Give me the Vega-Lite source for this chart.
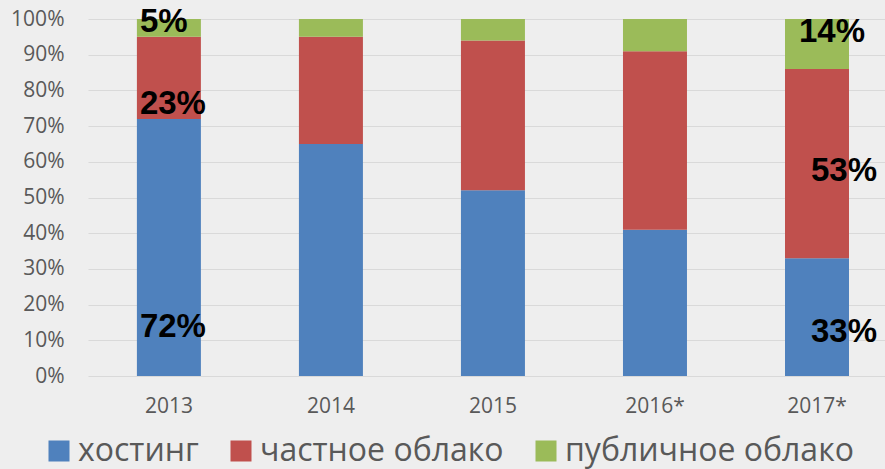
{
  "$schema": "https://vega.github.io/schema/vega-lite/v6.json",
  "width": 797,
  "height": 357,
  "autosize": {"type": "none"},
  "padding": {"left": 88, "top": 19, "right": 0, "bottom": 93},
  "background": "#eeeeee",
  "config": {
    "view": {"stroke": null},
    "axis": {"labelFont": "Open Sans", "labelFontSize": 21, "labelColor": "#595959", "domain": false, "ticks": false},
    "axisY": {"gridColor": "#d9d9d9", "labelPadding": 24, "labelOverlap": false},
    "legend": {"labelFont": "Open Sans", "labelFontSize": 32, "labelColor": "#595959"}
  },
  "data": {
    "values": [
      {"year": "2013", "type": "хостинг", "v": 0.72, "k": 1},
      {"year": "2013", "type": "частное облако", "v": 0.23, "k": 2},
      {"year": "2013", "type": "публичное облако", "v": 0.05, "k": 3},
      {"year": "2014", "type": "хостинг", "v": 0.65, "k": 1},
      {"year": "2014", "type": "частное облако", "v": 0.30, "k": 2},
      {"year": "2014", "type": "публичное облако", "v": 0.05, "k": 3},
      {"year": "2015", "type": "хостинг", "v": 0.52, "k": 1},
      {"year": "2015", "type": "частное облако", "v": 0.42, "k": 2},
      {"year": "2015", "type": "публичное облако", "v": 0.06, "k": 3},
      {"year": "2016*", "type": "хостинг", "v": 0.41, "k": 1},
      {"year": "2016*", "type": "частное облако", "v": 0.50, "k": 2},
      {"year": "2016*", "type": "публичное облако", "v": 0.09, "k": 3},
      {"year": "2017*", "type": "хостинг", "v": 0.33, "k": 1},
      {"year": "2017*", "type": "частное облако", "v": 0.53, "k": 2},
      {"year": "2017*", "type": "публичное облако", "v": 0.14, "k": 3}
    ]
  },
  "transform": [
    {"stack": "v", "groupby": ["year"], "sort": [{"field": "k", "order": "ascending"}], "as": ["v0", "v1"]}
  ],
  "encoding": {
    "x": {
      "field": "year", "type": "nominal", "title": null,
      "scale": {"paddingInner": 0.605, "paddingOuter": 0.262, "align": 0.576},
      "axis": {"labelAngle": 0, "labelPadding": 19}
    }
  },
  "layer": [
    {
      "mark": {"type": "bar"},
      "encoding": {
        "y": {
          "field": "v1", "type": "quantitative", "title": null,
          "scale": {"domain": [0, 1]},
          "axis": {"format": ".0%", "values": [0, 0.1, 0.2, 0.3, 0.4, 0.5, 0.6, 0.7, 0.8, 0.9, 1]}
        },
        "y2": {"field": "v0"},
        "color": {
          "field": "type", "type": "nominal",
          "scale": {"domain": ["хостинг", "частное облако", "публичное облако"], "range": ["#4f81bd", "#c0504d", "#9bbb59"]},
          "legend": {"title": null, "orient": "none", "direction": "horizontal", "legendX": -45, "legendY": 416, "symbolType": "square", "symbolSize": 441, "symbolStrokeWidth": 0, "symbolOpacity": 1, "columnPadding": 26, "labelOffset": 3, "labelLimit": 500}
        }
      }
    },
    {
      "transform": [{"filter": "datum.year == '2013' && datum.type != 'хостинг'"}],
      "mark": {"type": "text", "font": "Liberation Sans", "fontWeight": "bold", "fontSize": 33, "color": "black", "align": "left", "baseline": "middle", "dx": 3, "dy": -15},
      "encoding": {"x": {"field": "year", "type": "nominal", "bandPosition": 0}, "y": {"field": "v0", "type": "quantitative", "title": null, "axis": {"format": ".0%", "values": [0, 0.1, 0.2, 0.3, 0.4, 0.5, 0.6, 0.7, 0.8, 0.9, 1]}}, "text": {"field": "v", "type": "quantitative", "format": ".0%"}}
    },
    {
      "transform": [{"filter": "datum.year == '2013' && datum.type == 'хостинг'"}],
      "mark": {"type": "text", "font": "Liberation Sans", "fontWeight": "bold", "fontSize": 33, "color": "black", "align": "left", "baseline": "middle", "dx": 3, "dy": -49},
      "encoding": {"x": {"field": "year", "type": "nominal", "bandPosition": 0}, "y": {"field": "v0", "type": "quantitative", "title": null, "axis": {"format": ".0%", "values": [0, 0.1, 0.2, 0.3, 0.4, 0.5, 0.6, 0.7, 0.8, 0.9, 1]}}, "text": {"field": "v", "type": "quantitative", "format": ".0%"}}
    },
    {
      "transform": [{"filter": "datum.year == '2017*' && datum.type == 'хостинг'"}],
      "mark": {"type": "text", "font": "Liberation Sans", "fontWeight": "bold", "fontSize": 33, "color": "black", "align": "left", "baseline": "middle", "dx": 26, "dy": -44},
      "encoding": {"x": {"field": "year", "type": "nominal", "bandPosition": 0}, "y": {"field": "v0", "type": "quantitative", "title": null, "axis": {"format": ".0%", "values": [0, 0.1, 0.2, 0.3, 0.4, 0.5, 0.6, 0.7, 0.8, 0.9, 1]}}, "text": {"field": "v", "type": "quantitative", "format": ".0%"}}
    },
    {
      "transform": [{"filter": "datum.year == '2017*' && datum.type == 'частное облако'"}],
      "mark": {"type": "text", "font": "Liberation Sans", "fontWeight": "bold", "fontSize": 33, "color": "black", "align": "left", "baseline": "middle", "dx": 26, "dy": -87},
      "encoding": {"x": {"field": "year", "type": "nominal", "bandPosition": 0}, "y": {"field": "v0", "type": "quantitative", "title": null, "axis": {"format": ".0%", "values": [0, 0.1, 0.2, 0.3, 0.4, 0.5, 0.6, 0.7, 0.8, 0.9, 1]}}, "text": {"field": "v", "type": "quantitative", "format": ".0%"}}
    },
    {
      "transform": [{"filter": "datum.year == '2017*' && datum.type == 'публичное облако'"}],
      "mark": {"type": "text", "font": "Liberation Sans", "fontWeight": "bold", "fontSize": 33, "color": "black", "align": "left", "baseline": "middle", "dx": 14, "dy": -37},
      "encoding": {"x": {"field": "year", "type": "nominal", "bandPosition": 0}, "y": {"field": "v0", "type": "quantitative", "title": null, "axis": {"format": ".0%", "values": [0, 0.1, 0.2, 0.3, 0.4, 0.5, 0.6, 0.7, 0.8, 0.9, 1]}}, "text": {"field": "v", "type": "quantitative", "format": ".0%"}}
    }
  ]
}
